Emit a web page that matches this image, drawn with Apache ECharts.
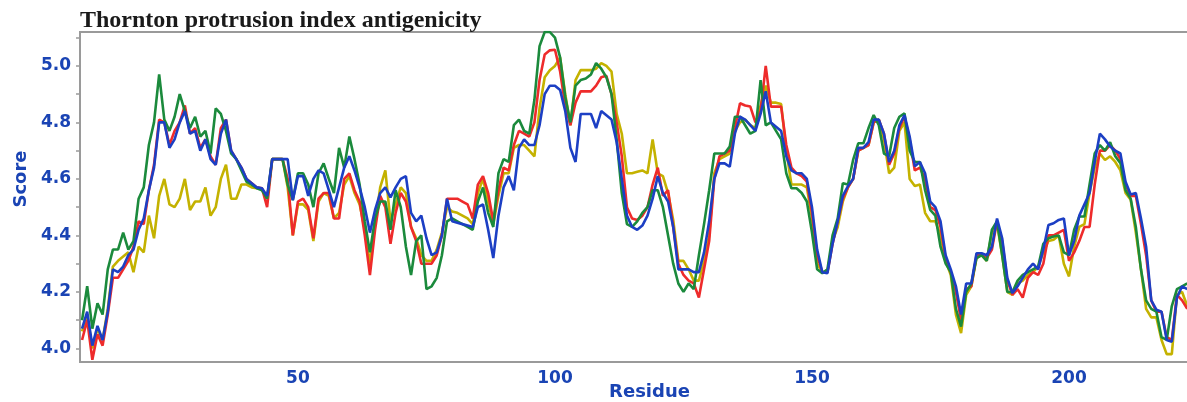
<!DOCTYPE html>
<html>
<head>
<meta charset="utf-8">
<script src="https://cdn.jsdelivr.net/npm/echarts@6/dist/echarts.min.js"></script>
<style>
html,body{margin:0;padding:0;background:#fff;}
#chart{width:1187px;height:402px;}
</style>
</head>
<body>
<div id="chart"></div>
<script>
// Residue numbers (x values), first residue = 8, one value per residue
const firstResidue = 8;

const blue = [
4.07,4.13,4.01,4.08,4.03,4.13,4.28,4.27,4.29,4.33,4.35,4.42,4.46,4.56,4.64,4.80,4.80,4.71,4.74,4.80,
4.84,4.76,4.77,4.70,4.74,4.67,4.65,4.76,4.81,4.70,4.67,4.64,4.60,4.585,4.57,4.567,4.54,4.67,4.67,4.67,
4.67,4.525,4.61,4.61,4.54,4.60,4.63,4.62,4.56,4.50,4.57,4.64,4.68,4.63,4.57,4.50,4.41,4.49,4.55,4.57,
4.535,4.57,4.60,4.61,4.48,4.45,4.47,4.39,4.33,4.34,4.40,4.53,4.45,4.445,4.44,4.435,4.43,4.50,4.51,4.42,
4.32,4.47,4.57,4.61,4.56,4.71,4.74,4.72,4.72,4.79,4.90,4.93,4.93,4.915,4.84,4.71,4.66,4.83,4.83,4.83,
4.78,4.84,4.825,4.81,4.73,4.60,4.47,4.43,4.42,4.435,4.47,4.53,4.61,4.55,4.52,4.43,4.28,4.28,4.28,4.27,
4.27,4.34,4.45,4.60,4.655,4.655,4.643,4.76,4.82,4.81,4.79,4.77,4.83,4.91,4.80,4.785,4.77,4.68,4.63,4.62,
4.62,4.60,4.50,4.35,4.27,4.266,4.37,4.45,4.54,4.575,4.60,4.71,4.71,4.73,4.81,4.81,4.76,4.66,4.70,4.79,
4.826,4.75,4.645,4.66,4.62,4.52,4.50,4.45,4.33,4.28,4.22,4.12,4.23,4.23,4.337,4.337,4.33,4.36,4.46,4.39,
4.25,4.196,4.22,4.25,4.28,4.30,4.28,4.35,4.437,4.443,4.455,4.46,4.33,4.38,4.47,4.51,4.55,4.66,4.76,4.74,
4.715,4.70,4.69,4.59,4.545,4.55,4.46,4.36,4.17,4.137,4.13,4.03,4.024,4.18,4.22,4.21
];

const green = [
4.10,4.22,4.07,4.16,4.12,4.28,4.35,4.35,4.41,4.35,4.38,4.53,4.57,4.72,4.80,4.97,4.81,4.77,4.82,4.90,
4.84,4.78,4.82,4.75,4.77,4.69,4.85,4.83,4.77,4.69,4.67,4.63,4.59,4.58,4.567,4.56,4.53,4.67,4.67,4.67,
4.58,4.525,4.62,4.62,4.58,4.50,4.62,4.655,4.60,4.55,4.71,4.64,4.75,4.67,4.58,4.45,4.34,4.46,4.52,4.52,
4.42,4.56,4.50,4.36,4.26,4.38,4.40,4.21,4.22,4.25,4.33,4.45,4.46,4.45,4.44,4.43,4.42,4.52,4.57,4.48,
4.43,4.62,4.67,4.66,4.79,4.81,4.77,4.76,4.88,5.07,5.12,5.12,5.10,5.03,4.89,4.80,4.93,4.95,4.955,4.97,
5.01,4.99,4.96,4.90,4.74,4.55,4.44,4.43,4.45,4.48,4.50,4.56,4.56,4.50,4.40,4.30,4.23,4.20,4.23,4.21,
4.33,4.44,4.56,4.69,4.69,4.69,4.715,4.82,4.82,4.79,4.76,4.77,4.95,4.79,4.80,4.77,4.74,4.62,4.567,4.567,
4.55,4.52,4.41,4.28,4.266,4.28,4.40,4.46,4.585,4.58,4.667,4.726,4.726,4.78,4.826,4.79,4.69,4.68,4.78,4.82,
4.832,4.70,4.66,4.66,4.56,4.49,4.47,4.36,4.30,4.27,4.14,4.077,4.20,4.23,4.32,4.33,4.31,4.42,4.45,4.33,
4.20,4.20,4.24,4.26,4.27,4.28,4.29,4.37,4.39,4.396,4.40,4.34,4.33,4.42,4.467,4.467,4.58,4.69,4.72,4.70,
4.73,4.68,4.656,4.56,4.53,4.43,4.28,4.17,4.14,4.13,4.04,4.03,4.15,4.21,4.22,4.23
];

const red = [
4.03,4.10,3.96,4.05,4.01,4.12,4.25,4.25,4.28,4.31,4.36,4.45,4.44,4.56,4.65,4.81,4.80,4.72,4.77,4.80,
4.86,4.76,4.78,4.71,4.74,4.68,4.65,4.78,4.81,4.70,4.67,4.64,4.60,4.585,4.57,4.567,4.50,4.67,4.67,4.67,
4.60,4.40,4.52,4.53,4.50,4.39,4.53,4.55,4.55,4.46,4.46,4.60,4.62,4.56,4.52,4.40,4.26,4.42,4.54,4.50,
4.37,4.48,4.55,4.52,4.43,4.38,4.30,4.30,4.30,4.33,4.40,4.53,4.53,4.53,4.52,4.51,4.46,4.58,4.61,4.55,
4.45,4.56,4.64,4.63,4.72,4.77,4.76,4.75,4.80,4.95,5.04,5.055,5.057,4.98,4.86,4.79,4.87,4.91,4.91,4.91,
4.93,4.96,4.965,4.90,4.80,4.68,4.50,4.46,4.455,4.47,4.50,4.58,4.64,4.54,4.56,4.43,4.30,4.26,4.24,4.23,
4.18,4.28,4.38,4.60,4.68,4.69,4.70,4.78,4.868,4.86,4.856,4.80,4.84,5.00,4.856,4.856,4.856,4.72,4.64,4.62,
4.61,4.59,4.48,4.33,4.27,4.27,4.37,4.45,4.53,4.57,4.60,4.70,4.71,4.72,4.80,4.81,4.76,4.65,4.69,4.78,
4.82,4.74,4.63,4.64,4.60,4.50,4.49,4.43,4.32,4.27,4.20,4.10,4.21,4.22,4.33,4.33,4.32,4.35,4.45,4.38,
4.24,4.19,4.21,4.18,4.25,4.27,4.26,4.30,4.40,4.40,4.41,4.42,4.31,4.34,4.38,4.43,4.43,4.58,4.70,4.70,
4.72,4.70,4.67,4.58,4.54,4.54,4.44,4.33,4.17,4.13,4.13,4.04,4.03,4.19,4.17,4.14
];

const yellow = [
4.06,4.12,4.00,4.07,4.03,4.14,4.29,4.31,4.325,4.34,4.27,4.36,4.34,4.47,4.39,4.54,4.60,4.51,4.50,4.53,
4.60,4.49,4.52,4.52,4.57,4.47,4.50,4.60,4.65,4.53,4.53,4.58,4.58,4.57,4.567,4.565,4.53,4.67,4.67,4.67,
4.57,4.40,4.51,4.51,4.49,4.38,4.52,4.55,4.54,4.46,4.48,4.58,4.61,4.55,4.51,4.42,4.30,4.44,4.57,4.63,
4.45,4.51,4.57,4.55,4.43,4.39,4.33,4.31,4.31,4.35,4.41,4.50,4.485,4.48,4.47,4.46,4.44,4.55,4.60,4.52,
4.44,4.54,4.62,4.62,4.71,4.72,4.72,4.70,4.68,4.85,4.96,4.985,5.00,5.03,4.90,4.79,4.95,4.985,4.985,4.985,
4.99,5.01,5.00,4.98,4.83,4.76,4.62,4.62,4.625,4.63,4.62,4.74,4.62,4.61,4.55,4.455,4.31,4.31,4.28,4.24,
4.24,4.31,4.40,4.62,4.67,4.68,4.69,4.77,4.80,4.81,4.79,4.78,4.86,4.93,4.87,4.87,4.865,4.70,4.58,4.58,
4.58,4.57,4.46,4.30,4.27,4.27,4.38,4.43,4.52,4.57,4.60,4.70,4.71,4.72,4.80,4.81,4.74,4.62,4.64,4.77,
4.80,4.60,4.575,4.58,4.48,4.45,4.45,4.40,4.31,4.26,4.12,4.054,4.19,4.22,4.32,4.33,4.31,4.41,4.44,4.33,
4.20,4.19,4.23,4.24,4.26,4.27,4.29,4.34,4.38,4.385,4.40,4.30,4.255,4.36,4.43,4.44,4.55,4.64,4.69,4.667,
4.68,4.66,4.63,4.55,4.526,4.41,4.28,4.14,4.11,4.11,4.03,3.98,3.98,4.19,4.20,4.15
];

const xTickLabels = [50, 100, 150, 200];
const yTickLabels = [4.0, 4.2, 4.4, 4.6, 4.8, 5.0];
const yTickMarks = [4.0, 4.1, 4.2, 4.3, 4.4, 4.5, 4.6, 4.7, 4.8, 4.9, 5.0, 5.1];

function pairs(arr) {
  return arr.map((v, i) => [firstResidue + i, v]);
}

const chart = echarts.init(document.getElementById('chart'), null, {renderer: 'canvas'});
const labelFont = 'DejaVu Sans';
const axisBlue = '#1a44b4';
const frame = '#9a9a9a';

const mk = (name, data, color) => ({
  name, type: 'line', data: pairs(data), showSymbol: false, symbol: 'none',
  lineStyle: {color, width: 2.6}, itemStyle: {color}, animation: false
});

chart.setOption({
  animation: false,
  title: {
    text: 'Thornton protrusion index antigenicity',
    left: 75, top: 4,
    textStyle: {fontFamily: 'Liberation Serif', fontWeight: 'bold', fontSize: 24, color: '#1a1a1a'}
  },
  grid: {left: 80, right: -10, top: 32, bottom: 40, show: true, borderColor: frame, borderWidth: 2,
         backgroundColor: '#fff', containLabel: false, outerBoundsMode: 'none'},
  xAxis: {
    type: 'value', min: 7.6, max: 224.9,
    name: 'Residue', nameLocation: 'middle', nameGap: 21, nameMoveOverlap: false,
    nameTextStyle: {fontFamily: labelFont, fontWeight: 'bold', fontSize: 18, color: axisBlue, padding: [0, 0, 0, 22]},
    axisLine: {show: true, lineStyle: {color: frame, width: 2}},
    axisTick: {show: false},
    splitLine: {show: false},
    axisLabel: {customValues: xTickLabels, fontFamily: labelFont, fontWeight: 'bold', fontSize: 17, color: axisBlue, margin: 8}
  },
  yAxis: {
    type: 'value', min: 3.952, max: 5.12,
    name: 'Score', nameLocation: 'middle', nameGap: 50, nameMoveOverlap: false,
    nameTextStyle: {fontFamily: labelFont, fontWeight: 'bold', fontSize: 18, color: axisBlue, padding: [0, 0, 0, 36]},
    axisLine: {show: true, lineStyle: {color: frame, width: 2}},
    axisTick: {show: true, customValues: yTickMarks, length: 4, lineStyle: {color: frame, width: 1.5}},
    splitLine: {show: false},
    axisLabel: {customValues: yTickLabels, formatter: v => Number(v).toFixed(1), fontFamily: labelFont, fontWeight: 'bold', fontSize: 17, color: axisBlue, margin: 9}
  },
  series: [
    mk('Yellow', yellow, '#c4b200'),
    mk('Red', red, '#ee2b2b'),
    mk('Green', green, '#1b8a3c'),
    mk('Blue', blue, '#1c3fc4')
  ]
});
</script>
</body>
</html>
